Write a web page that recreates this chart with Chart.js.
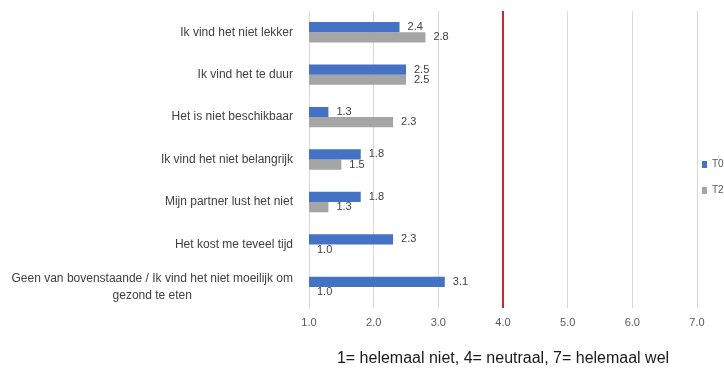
<!DOCTYPE html>
<html>
<head>
<meta charset="utf-8">
<script src="https://cdn.jsdelivr.net/npm/chart.js@4"></script>
<style>
  html, body { margin: 0; padding: 0; background: #fff; }
  #wrap { width: 724px; height: 368px; }
</style>
</head>
<body>
<div id="wrap"><canvas id="barCanvas"></canvas></div>
<script>
// redenen om niet gezond te eten, gemiddelde score per meetmoment
const redenen = [
    "Ik vind het niet lekker",
    "Ik vind het te duur",
    "Het is niet beschikbaar",
    "Ik vind het niet belangrijk",
    "Mijn partner lust het niet",
    "Het kost me teveel tijd",
    ["Geen van bovenstaande / Ik vind het niet moeilijk om", "gezond te eten"]
];
const scoresT0 = [2.4, 2.5, 1.3, 1.8, 1.8, 2.3, 3.1];
const scoresT2 = [2.8, 2.5, 2.3, 1.5, 1.3, 1.0, 1.0];
const schaalMin = 1;
const schaalMax = 7;
const neutraal = 4;
const asTitel = "1= helemaal niet, 4= neutraal, 7= helemaal wel";

const fontFamily = "'Liberation Sans', Arial, sans-serif";
const barCanvas = document.getElementById("barCanvas");

// waarde rechts naast elke balk
const waardeLabels = {
    id: "waardeLabels",
    afterDatasetsDraw(chart) {
        const ctx = chart.ctx;
        ctx.save();
        ctx.font = "11px " + fontFamily;
        ctx.fillStyle = "#404040";
        ctx.textAlign = "left";
        ctx.textBaseline = "middle";
        chart.data.datasets.forEach((ds, i) => {
            chart.getDatasetMeta(i).data.forEach((bar, j) => {
                ctx.fillText(ds.data[j].toFixed(1), bar.x + 8, bar.y);
            });
        });
        ctx.restore();
    }
};

// rode lijn bij het neutrale punt
const neutraalLijn = {
    id: "neutraalLijn",
    beforeDatasetsDraw(chart) {
        const x = chart.scales.x.getPixelForValue(neutraal);
        const area = chart.chartArea;
        const ctx = chart.ctx;
        ctx.save();
        ctx.strokeStyle = "#c8282e";
        ctx.lineWidth = 2;
        ctx.beginPath();
        ctx.moveTo(x, area.top);
        ctx.lineTo(x, area.bottom);
        ctx.stroke();
        ctx.restore();
    }
};

// smalle legenda, iets naar links en omhoog geschoven
const smalleLegenda = {
    id: "smalleLegenda",
    beforeInit(chart) {
        const legend = chart.legend;
        const fit = legend.fit;
        legend.fit = function () {
            fit.call(this);
            this.width = 27;
        };
    },
    afterLayout(chart) {
        const legend = chart.legend;
        legend.left = chart.chartArea.right - 11;
        legend.top -= 12;
        legend.bottom -= 12;
    }
};

// labels over twee regels onderling centreren
const tweeRegels = {
    id: "tweeRegels",
    beforeDraw(chart) {
        const ctx = chart.ctx;
        chart.scales.y.getLabelItems().forEach(item => {
            if (Array.isArray(item.label) && item.options.textAlign !== "center") {
                ctx.save();
                ctx.font = item.font.string;
                const w = Math.max(...item.label.map(t => ctx.measureText(t).width));
                ctx.restore();
                item.options.textAlign = "center";
                item.options.translation[0] -= w / 2;
            }
        });
    }
};

const barChart = new Chart(barCanvas, {
    type: "bar",
    data: {
        labels: redenen,
        datasets: [
            {
                label: "T0",
                data: scoresT0,
                backgroundColor: "#4472c4",
                categoryPercentage: 0.48,
                barPercentage: 1.0
            },
            {
                label: "T2",
                data: scoresT2,
                backgroundColor: "#a5a5a5",
                categoryPercentage: 0.48,
                barPercentage: 1.0
            }
        ]
    },
    options: {
        indexAxis: "y",
        responsive: true,
        maintainAspectRatio: false,
        animation: false,
        layout: { padding: { left: 4, right: 0, top: 11, bottom: 0 } },
        scales: {
            x: {
                min: schaalMin,
                max: schaalMax,
                ticks: {
                    stepSize: 1,
                    padding: 8,
                    color: "#595959",
                    font: { family: fontFamily, size: 11 },
                    callback: v => v.toFixed(1)
                },
                grid: { color: "#d9d9d9", drawTicks: false },
                border: { display: false },
                title: {
                    display: true,
                    text: asTitel,
                    color: "#1a1a1a",
                    font: { family: fontFamily, size: 16 },
                    padding: { top: 11.5, bottom: 0 }
                }
            },
            y: {
                grid: { display: false, drawTicks: false },
                border: { display: true, color: "#d9d9d9" },
                ticks: {
                    padding: 16,
                    color: "#404040",
                    font: { family: fontFamily, size: 12, lineHeight: 1.4 }
                },
                afterFit(scale) {
                    scale.width = 305;
                    scale.paddingTop = 0;
                    scale.paddingBottom = 0;
                }
            }
        },
        plugins: {
            legend: {
                position: "right",
                labels: {
                    boxWidth: 5,
                    boxHeight: 7,
                    padding: 16,
                    color: "#595959",
                    font: { family: fontFamily, size: 10 }
                }
            },
            tooltip: { enabled: false }
        }
    },
    plugins: [waardeLabels, neutraalLijn, smalleLegenda, tweeRegels]
});
</script>
</body>
</html>
